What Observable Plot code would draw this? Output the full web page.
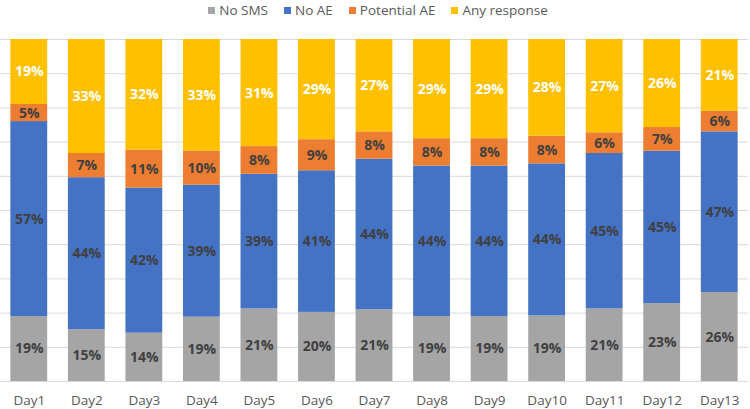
<!DOCTYPE html>
<html>
<head>
<meta charset="utf-8">
<script src="https://cdn.jsdelivr.net/npm/d3@7"></script>
<script src="https://cdn.jsdelivr.net/npm/@observablehq/plot@0.6"></script>
<style>
  html, body { margin: 0; padding: 0; background: #fff; }
  body { width: 750px; height: 409px; overflow: hidden; font-family: "Open Sans", sans-serif; }
  #legend { height: 20px; display: flex; justify-content: center; align-items: center; font-size: 13.5px; color: #595959; padding-left: 6px; box-sizing: border-box; }
  #legend .item { display: flex; align-items: center; margin: 0 8px; }
  #legend .sw { width: 7px; height: 7px; margin-right: 4px; }
</style>
</head>
<body>
<div id="legend"></div>
<div id="chart"></div>
<script>
const days = ["Day1","Day2","Day3","Day4","Day5","Day6","Day7","Day8","Day9","Day10","Day11","Day12","Day13"];
const series = ["No SMS","No AE","Potential AE","Any response"];
const colors = ["#A5A5A5","#4472C4","#ED7D31","#FFC000"];
const noSMS       = [19,15,14,19,21,20,21,19,19,19,21,23,26];
const noAE        = [57,44,42,39,39,41,44,44,44,44,45,45,47];
const potentialAE = [5,7,11,10,8,9,8,8,8,8,6,7,6];
const anyResponse = [19,33,32,33,31,29,27,29,29,28,27,26,21];
const gridTicks = [0,0.1,0.2,0.3,0.4,0.5,0.6,0.7,0.8,0.9,1];

const valuesBySeries = [noSMS, noAE, potentialAE, anyResponse];
const data = [];
series.forEach((s, si) => {
  days.forEach((d, di) => {
    data.push({day: d, series: s, value: valuesBySeries[si][di]});
  });
});

// legend
const legend = document.getElementById("legend");
series.forEach((s, i) => {
  const it = document.createElement("div");
  it.className = "item";
  it.innerHTML = `<span class="sw" style="background:${colors[i]}"></span><span>${s}</span>`;
  legend.appendChild(it);
});

const stackOpts = {x: "day", y: "value", fill: "series", order: series, offset: "normalize"};

const chart = Plot.plot({
  width: 750,
  height: 389,
  marginTop: 19,
  marginBottom: 28,
  marginLeft: 0,
  marginRight: 2,
  style: {fontFamily: "Open Sans, sans-serif", background: "#fff"},
  x: {domain: days, paddingInner: 0.36, paddingOuter: 0.18, round: false, label: null},
  y: {domain: [0, 1], axis: null},
  color: {domain: series, range: colors},
  marks: [
    Plot.gridY(gridTicks, {stroke: "#D9D9D9", strokeOpacity: 1, strokeWidth: 1}),
    Plot.barY(data, Plot.stackY(stackOpts)),
    Plot.text(data, Plot.stackY({
      ...stackOpts,
      text: d => d.value + "%",
      fill: d => d.series === "Any response" ? "#FFFFFF" : "#404040",
      fontSize: 14,
      fontWeight: "bold"
    })),
    Plot.axisX({tickSize: 0, tickPadding: 14, fontSize: 13.5, color: "#595959", label: null})
  ]
});
document.getElementById("chart").appendChild(chart);
</script>
</body>
</html>
